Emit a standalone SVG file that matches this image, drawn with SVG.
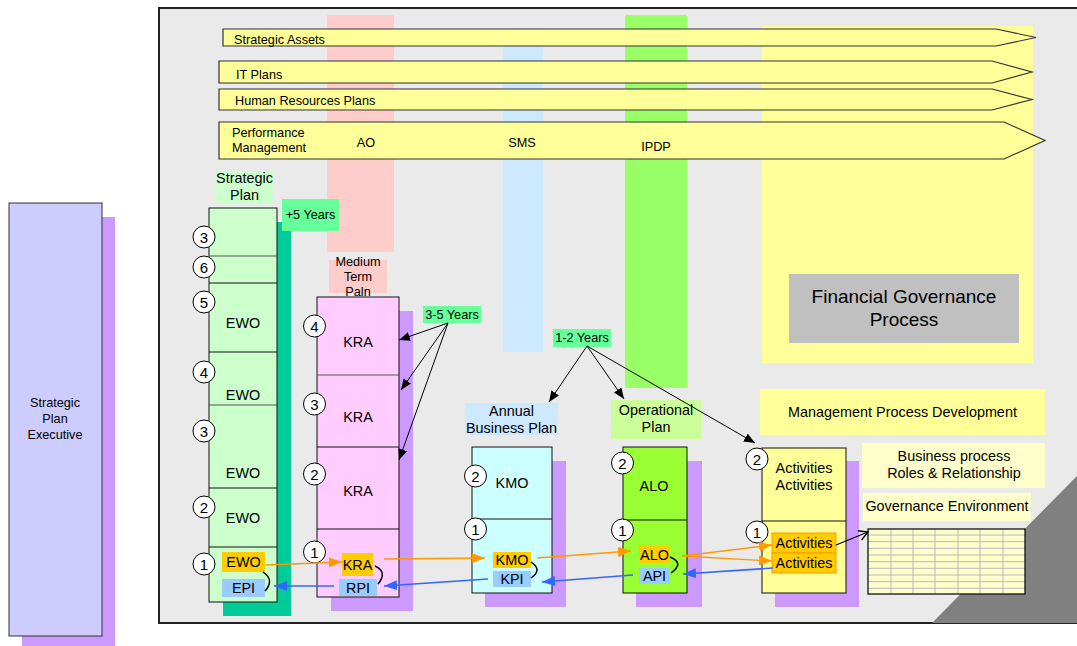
<svg xmlns="http://www.w3.org/2000/svg" width="1077" height="646" viewBox="0 0 1077 646">
<defs>
<style>
text{font-family:"Liberation Sans",Arial,sans-serif;fill:#000}
.t12{font-size:12.7px}
.t14{font-size:14.4px}
.num{font-size:15px;text-anchor:middle}
.c{text-anchor:middle}
.box{stroke:#111;stroke-width:1}
.circ{fill:#fff;stroke:#000;stroke-width:1}
.arr{fill:#ffff99;stroke:#333;stroke-width:1.2}
.or{fill:#ffcc00}
.bl{fill:#99ccff}
.lo{stroke:#ff9900;stroke-width:1.3;fill:none;marker-end:url(#mo)}
.lb{stroke:#3366ff;stroke-width:1.6;fill:none;marker-end:url(#mb)}
.lk{stroke:#000;stroke-width:1;fill:none;marker-end:url(#mk)}
.cv{stroke:#000;stroke-width:1.5;fill:none}
.sh{fill:#cc99ff}
</style>
<marker id="mo" markerUnits="userSpaceOnUse" markerWidth="14" markerHeight="12" refX="13" refY="5" orient="auto"><path d="M0,0 L13,5 L0,10 z" fill="#ff9900"/></marker>
<marker id="mb" markerUnits="userSpaceOnUse" markerWidth="14" markerHeight="12" refX="13" refY="5" orient="auto"><path d="M0,0 L13,5 L0,10 z" fill="#3366ff"/></marker>
<marker id="mk" markerUnits="userSpaceOnUse" markerWidth="12" markerHeight="10" refX="11" refY="4.5" orient="auto"><path d="M0,0 L11,4.5 L0,9 z" fill="#000"/></marker>
<marker id="mkopen" markerUnits="userSpaceOnUse" markerWidth="12" markerHeight="12" refX="10" refY="5" orient="auto"><path d="M1,0 L10,5 L1,10" fill="none" stroke="#000" stroke-width="1.3"/></marker>
</defs>

<g id="executive">
<rect x="22" y="217" width="93" height="435" class="sh"/>
<rect x="9" y="203" width="93" height="433" fill="#ccccff" stroke="#333" stroke-width="1"/>
<text class="t12 c" x="55" y="407">Strategic</text>
<text class="t12 c" x="55" y="423">Plan</text>
<text class="t12 c" x="55" y="439">Executive</text>
</g>

<g id="frame">
<rect x="159" y="8" width="940" height="615" fill="#eaeaea" stroke="#222" stroke-width="2"/>
</g>

<g id="columns">
<rect x="327" y="15" width="67" height="237" fill="#ffcccc"/>
<rect x="503" y="30" width="40" height="322" fill="#cce9ff"/>
<rect x="625" y="15" width="62" height="373" fill="#99ff66"/>
<rect x="762" y="26" width="271" height="337" fill="#ffff99"/>
</g>

<g id="band-strategic-assets">
<path class="arr" d="M223,29 L996,29 L1036,37.5 L996,46 L223,46 Z"/>
<text class="t12" x="234" y="44">Strategic Assets</text>
</g>
<g id="band-it">
<path class="arr" d="M219,61 L992,61 L1032,72 L992,83 L219,83 Z"/>
<text class="t12" x="236" y="79">IT Plans</text>
</g>
<g id="band-hr">
<path class="arr" d="M219,89 L992,89 L1032,99.5 L992,110 L219,110 Z"/>
<text class="t12" x="235" y="104.5">Human Resources Plans</text>
</g>
<g id="band-perf">
<path class="arr" d="M219,122 L1004,122 L1045,140.5 L1004,159 L219,159 Z"/>
<text class="t12" x="232" y="137">Performance</text>
<text class="t12" x="232" y="152">Management</text>
<text class="t12 c" x="366" y="147">AO</text>
<text class="t12 c" x="522" y="147">SMS</text>
<text class="t12 c" x="656" y="151">IPDP</text>
</g>

<g id="financial">
<rect x="789" y="274" width="230" height="69" fill="#c0c0c0"/>
<text class="c" style="font-size:19px" x="904" y="303">Financial Governance</text>
<text class="c" style="font-size:19px" x="904" y="326">Process</text>
</g>

<g id="triangle">
<polygon points="1077,476 1077,623 932,623" fill="#808080"/>
</g>

<g id="strategic-plan">
<rect x="216" y="171" width="57" height="32" fill="#ccffcc"/>
<text class="t14 c" x="244.5" y="182.5">Strategic</text>
<text class="t14 c" x="244.5" y="199.5">Plan</text>
<rect x="223" y="222" width="68" height="394" fill="#00cc99"/>
<rect x="209" y="208" width="68" height="394" fill="#ccffcc" class="box"/>
<line x1="209" y1="256" x2="277" y2="256" stroke="#555"/>
<line x1="209" y1="283" x2="277" y2="283" stroke="#111"/>
<line x1="209" y1="352" x2="277" y2="352" stroke="#111"/>
<line x1="209" y1="405" x2="277" y2="405" stroke="#555"/>
<line x1="209" y1="488" x2="277" y2="488" stroke="#111"/>
<line x1="209" y1="547" x2="277" y2="547" stroke="#111"/>
<circle class="circ" cx="204" cy="237" r="11"/><text class="num" x="204" y="242.5">3</text>
<circle class="circ" cx="204" cy="267" r="11"/><text class="num" x="204" y="272.5">6</text>
<circle class="circ" cx="204" cy="302" r="11"/><text class="num" x="204" y="307.5">5</text>
<circle class="circ" cx="204" cy="372" r="11"/><text class="num" x="204" y="377.5">4</text>
<circle class="circ" cx="204" cy="431" r="11"/><text class="num" x="204" y="436.5">3</text>
<circle class="circ" cx="204" cy="507" r="11"/><text class="num" x="204" y="512.5">2</text>
<circle class="circ" cx="204" cy="564" r="11"/><text class="num" x="204" y="569.5">1</text>
<text class="t14 c" x="243" y="328">EWO</text>
<text class="t14 c" x="243" y="400">EWO</text>
<text class="t14 c" x="243" y="478">EWO</text>
<text class="t14 c" x="243" y="523">EWO</text>
<rect class="or" x="222" y="552" width="43" height="20"/>
<text class="t14 c" x="243.5" y="567">EWO</text>
<rect class="bl" x="222" y="579" width="43" height="18"/>
<text class="t14 c" x="243.5" y="593">EPI</text>
<rect x="282" y="199" width="57" height="32" fill="#66ff99"/>
<text class="t12 c" x="310.5" y="218.5">+5 Years</text>
</g>

<g id="medium-term">
<rect x="329" y="260" width="58" height="33" fill="#ffcccc"/>
<text class="t12 c" x="358" y="266">Medium</text>
<text class="t12 c" x="358" y="281">Term</text>
<text class="t12 c" x="358" y="296">Paln</text>
<rect x="331" y="311" width="82" height="300" class="sh"/>
<rect x="317" y="297" width="82" height="300" fill="#ffccff" class="box"/>
<line x1="317" y1="375" x2="399" y2="375" stroke="#555"/>
<line x1="317" y1="447" x2="399" y2="447" stroke="#111"/>
<line x1="317" y1="529" x2="399" y2="529" stroke="#111"/>
<circle class="circ" cx="314.5" cy="326" r="11"/><text class="num" x="314.5" y="331.5">4</text>
<circle class="circ" cx="314.5" cy="404" r="11"/><text class="num" x="314.5" y="409.5">3</text>
<circle class="circ" cx="314.5" cy="474" r="11"/><text class="num" x="314.5" y="479.5">2</text>
<circle class="circ" cx="314.5" cy="552" r="11"/><text class="num" x="314.5" y="557.5">1</text>
<text class="t14 c" x="358" y="347">KRA</text>
<text class="t14 c" x="358" y="422">KRA</text>
<text class="t14 c" x="358" y="496">KRA</text>
<rect class="or" x="342" y="553" width="31" height="23"/>
<text class="t14 c" x="357.5" y="569.5">KRA</text>
<rect class="bl" x="339" y="579" width="38" height="17"/>
<text class="t14 c" x="358" y="592.5">RPI</text>
<rect x="423" y="306" width="58" height="17" fill="#66ff99"/>
<text class="t12 c" x="452" y="318.5">3-5 Years</text>
</g>

<g id="annual-plan">
<rect x="465" y="403" width="93" height="32" fill="#cce9ff"/>
<text class="t14 c" x="511.5" y="416">Annual</text>
<text class="t14 c" x="511.5" y="433">Business Plan</text>
<rect x="485" y="461" width="81" height="146" class="sh"/>
<rect x="472" y="447" width="80" height="146" fill="#ccffff" class="box"/>
<line x1="472" y1="519" x2="552" y2="519" stroke="#111"/>
<circle class="circ" cx="475.5" cy="476" r="11"/><text class="num" x="475.5" y="481.5">2</text>
<circle class="circ" cx="475.5" cy="529" r="11"/><text class="num" x="475.5" y="534.5">1</text>
<text class="t14 c" x="512" y="488">KMO</text>
<rect class="or" x="493" y="552" width="38" height="16"/>
<text class="t14 c" x="512" y="565">KMO</text>
<rect class="bl" x="493" y="571" width="38" height="16"/>
<text class="t14 c" x="512" y="584">KPI</text>
<rect x="553" y="329" width="58" height="18" fill="#66ff99"/>
<text class="t12 c" x="582" y="342">1-2 Years</text>
</g>

<g id="operational-plan">
<rect x="611" y="400" width="90" height="39" fill="#ccff99"/>
<text class="t14 c" x="656" y="415">Operational</text>
<text class="t14 c" x="656" y="432">Plan</text>
<rect x="636" y="461" width="66" height="146" class="sh"/>
<rect x="623" y="447" width="64" height="146" fill="#99ff33" class="box"/>
<line x1="623" y1="520" x2="687" y2="520" stroke="#111"/>
<circle class="circ" cx="622.5" cy="463" r="11"/><text class="num" x="622.5" y="468.5">2</text>
<circle class="circ" cx="622.5" cy="530" r="11"/><text class="num" x="622.5" y="535.5">1</text>
<text class="t14 c" x="654" y="491">ALO</text>
<rect class="or" x="639" y="546" width="31" height="17"/>
<text class="t14 c" x="654.5" y="559.5">ALO</text>
<rect class="bl" x="639" y="568" width="31" height="16"/>
<text class="t14 c" x="654.5" y="581">API</text>
</g>

<g id="management">
<rect x="760" y="389" width="285" height="46" fill="#ffff99"/>
<text class="t14 c" x="902.5" y="417">Management Process Development</text>
<rect x="862" y="443" width="183" height="45" fill="#ffffcc"/>
<text class="t14 c" x="954" y="461">Business process</text>
<text class="t14 c" x="954" y="478">Roles &amp; Relationship</text>
<rect x="863" y="493" width="168" height="28" fill="#ffffcc"/>
<text class="t14 c" x="947" y="511">Governance Environment</text>
</g>

<g id="activities">
<rect x="775" y="461" width="84" height="146" class="sh"/>
<rect x="762" y="448" width="84" height="145" fill="#ffff99" class="box"/>
<line x1="762" y1="521" x2="846" y2="521" stroke="#111"/>
<circle class="circ" cx="757" cy="459" r="11"/><text class="num" x="757" y="464.5">2</text>
<circle class="circ" cx="757" cy="532" r="11"/><text class="num" x="757" y="537.5">1</text>
<text class="t14 c" x="804" y="473">Activities</text>
<text class="t14 c" x="804" y="490">Activities</text>
<rect x="772" y="533" width="64" height="20" fill="#ffcc00" stroke="#ff9900"/>
<text class="t14 c" x="804" y="548">Activities</text>
<rect x="772" y="553" width="64" height="20" fill="#ffcc00" stroke="#ff9900"/>
<text class="t14 c" x="804" y="568">Activities</text>
</g>

<g id="table">
<rect x="868" y="529" width="157" height="65" fill="#ffffcc"/>
<g stroke="#b8b8b8" stroke-width="1">
<line x1="891" y1="529" x2="891" y2="594"/>
<line x1="913" y1="529" x2="913" y2="594"/>
<line x1="935" y1="529" x2="935" y2="594"/>
<line x1="958" y1="529" x2="958" y2="594"/>
<line x1="980" y1="529" x2="980" y2="594"/>
<line x1="1003" y1="529" x2="1003" y2="594"/>
<line x1="868" y1="535" x2="1025" y2="535"/>
<line x1="868" y1="541.7" x2="1025" y2="541.7"/>
<line x1="868" y1="548.3" x2="1025" y2="548.3"/>
<line x1="868" y1="555" x2="1025" y2="555"/>
<line x1="868" y1="561.7" x2="1025" y2="561.7"/>
<line x1="868" y1="568.3" x2="1025" y2="568.3"/>
<line x1="868" y1="575" x2="1025" y2="575"/>
<line x1="868" y1="581.7" x2="1025" y2="581.7"/>
<line x1="868" y1="588.3" x2="1025" y2="588.3"/>
</g>
<rect x="868" y="529" width="157" height="65" fill="none" stroke="#111" stroke-width="1.3"/>
</g>

<g id="connectors">
<line class="lk" x1="448" y1="323" x2="399" y2="340"/>
<line class="lk" x1="448" y1="323" x2="401" y2="390"/>
<line class="lk" x1="448" y1="323" x2="399" y2="460"/>
<line class="lk" x1="587" y1="346" x2="549" y2="402"/>
<line class="lk" x1="587" y1="346" x2="624" y2="399"/>
<line class="lk" x1="587" y1="346" x2="755" y2="443"/>
<line class="lo" x1="266" y1="565" x2="342" y2="562"/>
<line class="lo" x1="384" y1="559" x2="485" y2="558"/>
<line class="lo" x1="537" y1="558" x2="631" y2="551"/>
<line class="lo" x1="682" y1="556" x2="772" y2="545"/>
<line class="lo" x1="682" y1="556" x2="772" y2="561"/>
<line class="lb" x1="773" y1="568" x2="683" y2="574"/>
<line class="lb" x1="633" y1="575" x2="542" y2="582"/>
<line class="lb" x1="488" y1="579" x2="384" y2="586"/>
<line class="lb" x1="334" y1="586" x2="274" y2="586"/>
<path class="cv" d="M263,572 Q275,580 265,591"/>
<path class="cv" d="M375,566 Q388,572 378,584"/>
<path class="cv" d="M531,562 Q543,570 531,578"/>
<path class="cv" d="M670,557 Q685,563 671,573"/>
<line x1="836" y1="545" x2="868" y2="532" stroke="#000" stroke-width="1.3" marker-end="url(#mkopen)"/>
</g>
</svg>
